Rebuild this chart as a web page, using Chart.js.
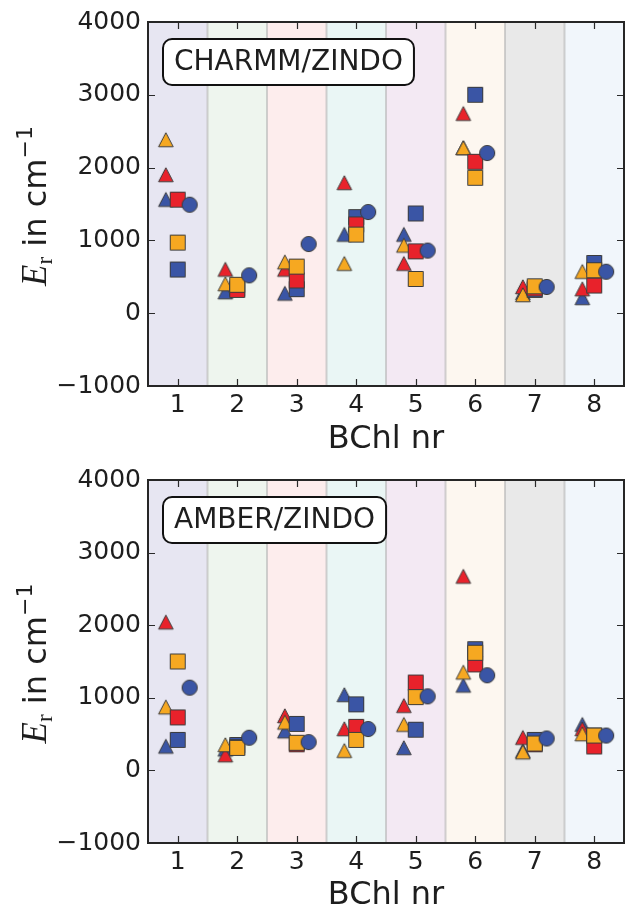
<!DOCTYPE html>
<html><head><meta charset="utf-8">
<script src="https://cdn.jsdelivr.net/npm/chart.js@4.4.0/dist/chart.umd.min.js"></script>
<style>
html,body{margin:0;padding:0;background:#fff;}
#wrap{position:relative;width:633px;height:912px;overflow:hidden;background:#fff;}
canvas{position:absolute;left:0;}
</style></head><body>
<div id="wrap">
<canvas id="c1" width="633" height="456" style="top:0px"></canvas>
<canvas id="c2" width="633" height="456" style="top:456px"></canvas>
</div>
<script>
// ---------- data ----------
const categories = [1, 2, 3, 4, 5, 6, 7, 8];
const xTickLabels = ['1', '2', '3', '4', '5', '6', '7', '8'];
const yTicks = [-1000, 0, 1000, 2000, 3000, 4000];
const xTitle = 'BChl nr';
const panelLabels = ['CHARMM/ZINDO', 'AMBER/ZINDO'];

// CHARMM/ZINDO panel
const charmmTriBlue   = [1560, 290, 270, 1080, 1080, 2270, 280, 210];
const charmmTriRed    = [1900, 600, 600, 1790, 680, 2740, 360, 330];
const charmmTriOrange = [2380, 400, 700, 680, 930, 2270, 250, 570];
const charmmSqBlue    = [600, 340, 330, 1320, 1370, 3000, 320, 690];
const charmmSqRed     = [1560, 320, 450, 1220, 850, 2080, 340, 380];
const charmmSqOrange  = [970, 390, 640, 1080, 470, 1860, 370, 590];
const charmmCircle    = [1490, 520, 950, 1390, 860, 2200, 360, 570];

// AMBER/ZINDO panel
const amberTriBlue   = [330, 290, 540, 1040, 310, 1170, 270, 630];
const amberTriRed    = [2040, 210, 750, 570, 890, 2670, 450, 570];
const amberTriOrange = [870, 350, 660, 270, 630, 1350, 250, 500];
const amberSqBlue    = [420, 350, 640, 910, 560, 1670, 420, 480];
const amberSqRed     = [730, 320, 360, 600, 1210, 1460, 360, 330];
const amberSqOrange  = [1500, 310, 380, 420, 1010, 1620, 370, 480];
const amberCircle    = [1140, 450, 390, 570, 1020, 1310, 440, 480];

// ---------- styles ----------
const BLUE = '#3a55a5', RED = '#e8222b', ORANGE = '#f6a821';
const EDGE = '#3c3c3c';
const bandColors = ['#e7e6f2', '#eef5ee', '#fdeded', '#eaf6f5', '#f3e9f3', '#fdf7f0', '#e9e9e9', '#f1f6fb'];
const seriesStyles = [
  {shape: 'tri', color: BLUE, dx: -0.2},
  {shape: 'tri', color: RED, dx: -0.2},
  {shape: 'tri', color: ORANGE, dx: -0.2},
  {shape: 'sq', color: BLUE, dx: 0},
  {shape: 'sq', color: RED, dx: 0},
  {shape: 'sq', color: ORANGE, dx: 0},
  {shape: 'circ', color: BLUE, dx: 0.2}
];

function makeMarker(shape, color) {
  const c = document.createElement('canvas');
  c.width = 20; c.height = 20;
  const g = c.getContext('2d');
  g.fillStyle = color; g.strokeStyle = EDGE; g.lineWidth = 1;
  g.beginPath();
  if (shape === 'sq') {
    g.rect(2.5, 2.5, 15, 15);
  } else if (shape === 'circ') {
    g.arc(10, 10, 7.6, 0, Math.PI * 2);
  } else {
    g.moveTo(10, 2.8); g.lineTo(17.3, 16.8); g.lineTo(2.7, 16.8); g.closePath();
  }
  g.fill(); g.stroke();
  return c;
}
const markers = seriesStyles.map(s => makeMarker(s.shape, s.color));

const FONT = '"DejaVu Sans", sans-serif';
const TXT = '#1e1e1e';

const panelPlugin = {
  id: 'panel',
  beforeDatasetsDraw(chart) {
    const {ctx, chartArea: a, scales: {x}} = chart;
    ctx.save();
    categories.forEach((c, i) => {
      const l = x.getPixelForValue(c - 0.5), r = x.getPixelForValue(c + 0.5);
      ctx.fillStyle = bandColors[i];
      ctx.fillRect(l, a.top, r - l, a.bottom - a.top);
    });
    ctx.strokeStyle = 'rgba(185,185,185,0.65)';
    ctx.lineWidth = 2;
    for (let i = 0; i < categories.length - 1; i++) {
      const p = x.getPixelForValue(categories[i] + 0.5);
      ctx.beginPath(); ctx.moveTo(p, a.top); ctx.lineTo(p, a.bottom); ctx.stroke();
    }
    ctx.restore();
  },
  afterDatasetsDraw(chart, args, opts) {
    const {ctx, chartArea: a, scales: {x, y}} = chart;
    ctx.save();
    // inward ticks on all sides
    ctx.strokeStyle = '#2a2a2a'; ctx.lineWidth = 1.2;
    const TL = 7;
    x.ticks.forEach(t => {
      const p = Math.round(x.getPixelForValue(t.value)) + 0.5;
      ctx.beginPath();
      ctx.moveTo(p, a.bottom); ctx.lineTo(p, a.bottom - TL);
      ctx.moveTo(p, a.top); ctx.lineTo(p, a.top + TL);
      ctx.stroke();
    });
    y.ticks.forEach(t => {
      const p = Math.round(y.getPixelForValue(t.value)) + 0.5;
      ctx.beginPath();
      ctx.moveTo(a.left, p); ctx.lineTo(a.left + TL, p);
      ctx.moveTo(a.right, p); ctx.lineTo(a.right - TL, p);
      ctx.stroke();
    });
    // frame
    ctx.strokeStyle = '#262626'; ctx.lineWidth = 2;
    ctx.strokeRect(a.left, a.top, a.right - a.left, a.bottom - a.top);
    // label box
    ctx.font = '28px ' + FONT;
    const tw = ctx.measureText(opts.label).width;
    const bx = a.left + 15, by = a.top + 17, bw = tw + 22, bh = 46;
    ctx.beginPath();
    ctx.roundRect(bx, by, bw, bh, 9);
    ctx.fillStyle = '#ffffff'; ctx.fill();
    ctx.strokeStyle = '#111'; ctx.lineWidth = 2; ctx.stroke();
    ctx.fillStyle = TXT; ctx.textBaseline = 'middle'; ctx.textAlign = 'center';
    ctx.fillText(opts.label, bx + bw / 2, by + bh / 2 + 1);
    ctx.restore();
  },
  afterDraw(chart) {
    const {ctx, chartArea: a} = chart;
    const pieces = [
      {t: 'E', font: 'italic 35px "Liberation Serif", serif', dy: 0},
      {t: 'r', font: '23px "Liberation Serif", serif', dy: 6},
      {t: ' in cm', font: '32px ' + FONT, dy: 0},
      {t: '\u22121', font: '22px ' + FONT, dy: -14}
    ];
    ctx.save();
    let total = 0;
    pieces.forEach(p => { ctx.font = p.font; p.w = ctx.measureText(p.t).width; total += p.w; });
    ctx.translate(46, (a.top + a.bottom) / 2 + 2);
    ctx.rotate(-Math.PI / 2);
    ctx.fillStyle = TXT; ctx.textBaseline = 'alphabetic'; ctx.textAlign = 'left';
    let cx = -total / 2;
    pieces.forEach(p => { ctx.font = p.font; ctx.fillText(p.t, cx, p.dy); cx += p.w; });
    ctx.restore();
  }
};

function makeChart(id, label, series, padTop, xHeight) {
  return new Chart(document.getElementById(id), {
    type: 'scatter',
    data: {
      datasets: series.map((vals, i) => ({
        label: label + ' ' + i,
        data: categories.map((c, j) => ({x: c + seriesStyles[i].dx, y: vals[j]})),
        pointStyle: markers[i],
        pointRadius: 8,
        pointHoverRadius: 8,
        order: series.length - i
      }))
    },
    options: {
      responsive: false,
      animation: false,
      devicePixelRatio: 1,
      layout: {padding: {top: padTop, right: 1, left: 0, bottom: 0}},
      plugins: {legend: {display: false}, tooltip: {enabled: false}, panel: {label: label}},
      scales: {
        x: {
          type: 'linear', min: 0.5, max: 8.5,
          grid: {display: false, drawTicks: false},
          border: {display: false},
          afterBuildTicks: s => { s.ticks = categories.map(v => ({value: v})); },
          afterFit: s => { s.height = xHeight; },
          ticks: {
            callback: v => { const k = categories.indexOf(v); return k >= 0 ? xTickLabels[k] : ''; },
            font: {family: FONT, size: 25}, color: TXT, padding: 4, autoSkip: false, maxRotation: 0
          },
          title: {display: true, text: xTitle, font: {family: FONT, size: 32}, color: TXT, padding: {top: 0, bottom: -3}}
        },
        y: {
          min: -1000, max: 4000,
          grid: {display: false, drawTicks: false},
          border: {display: false},
          afterBuildTicks: s => { s.ticks = yTicks.map(v => ({value: v})); },
          afterFit: s => { s.width = 148; },
          ticks: {
            callback: v => String(v).replace('-', '\u2212'),
            font: {family: FONT, size: 25}, color: TXT, padding: 7
          }
        }
      }
    },
    plugins: [panelPlugin]
  });
}

makeChart('c1', panelLabels[0],
  [charmmTriBlue, charmmTriRed, charmmTriOrange, charmmSqBlue, charmmSqRed, charmmSqOrange, charmmCircle], 22, 70);
makeChart('c2', panelLabels[1],
  [amberTriBlue, amberTriRed, amberTriOrange, amberSqBlue, amberSqRed, amberSqOrange, amberCircle], 24, 69);
</script>
</body></html>
